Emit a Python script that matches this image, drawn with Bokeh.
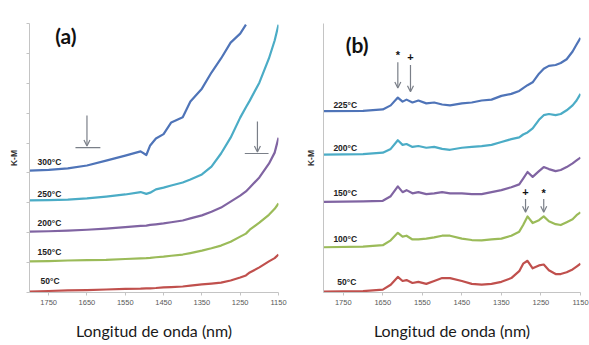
from bokeh.plotting import figure
from bokeh.layouts import row
from bokeh.models import Range1d, FixedTicker, Arrow, OpenHead, Label, ColumnDataSource
from bokeh.embed import file_html
from bokeh.resources import INLINE

# ---- panel (a): K-M spectra after heating (wavelength in nm) ----
wl_a = [1800, 1750, 1700, 1650, 1600, 1550, 1510, 1495, 1485, 1470, 1450, 1430, 1400,
        1380, 1350, 1325, 1300, 1275, 1250, 1235, 1225, 1200, 1175, 1160, 1150]
a_50 = [0.03, 0.05, 0.07, 0.08, 0.10, 0.12, 0.13, 0.14, 0.14, 0.15, 0.17, 0.18, 0.20,
        0.23, 0.27, 0.30, 0.33, 0.40, 0.50, 0.57, 0.67, 0.84, 1.04, 1.15, 1.27]
a_150 = [1.04, 1.05, 1.07, 1.08, 1.09, 1.12, 1.14, 1.15, 1.16, 1.18, 1.20, 1.23, 1.27,
         1.32, 1.40, 1.48, 1.57, 1.70, 1.87, 1.97, 2.10, 2.34, 2.60, 2.80, 2.98]
a_200 = [2.04, 2.05, 2.07, 2.10, 2.14, 2.19, 2.23, 2.24, 2.26, 2.28, 2.31, 2.35, 2.41,
         2.48, 2.58, 2.70, 2.84, 3.04, 3.24, 3.38, 3.51, 3.85, 4.31, 4.68, 5.18]
a_250 = [3.08, 3.09, 3.11, 3.15, 3.21, 3.28, 3.36, 3.30, 3.34, 3.45, 3.51, 3.58, 3.68,
         3.78, 3.95, 4.21, 4.65, 5.18, 5.85, 6.20, 6.42, 7.02, 7.83, 8.43, 8.96]
wl_a_300 = [1800, 1750, 1700, 1650, 1600, 1550, 1510, 1495, 1485, 1470, 1450, 1430, 1400,
            1380, 1350, 1325, 1300, 1275, 1250, 1235]
a_300 = [4.08, 4.10, 4.15, 4.25, 4.41, 4.58, 4.72, 4.60, 4.92, 5.15, 5.30, 5.69, 5.86,
         6.39, 6.82, 7.36, 7.83, 8.36, 8.66, 8.96]

# ---- panel (b) ----
wl_b = [1800, 1700, 1650, 1630, 1612, 1600, 1590, 1575, 1560, 1540, 1520, 1500, 1480,
        1450, 1425, 1400, 1375, 1350, 1325, 1305, 1295, 1284, 1271, 1255, 1243, 1230,
        1213, 1200, 1185, 1170, 1160, 1150]
b_50 = [0.03, 0.05, 0.10, 0.27, 0.54, 0.40, 0.43, 0.33, 0.37, 0.30, 0.40, 0.50, 0.50,
        0.40, 0.30, 0.27, 0.30, 0.37, 0.50, 0.74, 1.00, 1.10, 0.84, 0.94, 0.97, 0.77,
        0.64, 0.64, 0.70, 0.80, 0.90, 1.00]
b_100 = [1.57, 1.59, 1.64, 1.81, 2.07, 1.94, 1.97, 1.84, 1.84, 1.87, 1.91, 1.97, 1.97,
         1.87, 1.82, 1.81, 1.84, 1.87, 1.97, 2.11, 2.34, 2.64, 2.41, 2.51, 2.64, 2.47,
         2.37, 2.34, 2.44, 2.54, 2.68, 2.78]
b_150 = [3.14, 3.16, 3.18, 3.34, 3.68, 3.48, 3.55, 3.44, 3.48, 3.41, 3.44, 3.48, 3.44,
         3.44, 3.41, 3.41, 3.48, 3.55, 3.65, 3.75, 3.95, 4.18, 4.01, 4.21, 4.35, 4.28,
         4.21, 4.25, 4.35, 4.48, 4.58, 4.68]
b_200 = [4.78, 4.80, 4.85, 4.98, 5.28, 5.12, 5.15, 5.05, 5.08, 5.02, 5.05, 4.98, 4.95,
         5.02, 5.05, 5.08, 5.12, 5.22, 5.32, 5.38, 5.48, 5.55, 5.69, 5.99, 6.15, 6.19,
         6.15, 6.19, 6.32, 6.49, 6.66, 6.89]
b_225 = [6.29, 6.30, 6.35, 6.49, 6.76, 6.62, 6.69, 6.59, 6.66, 6.56, 6.59, 6.52, 6.49,
         6.56, 6.59, 6.66, 6.69, 6.82, 6.89, 6.99, 7.09, 7.19, 7.29, 7.59, 7.76, 7.86,
         7.89, 7.96, 8.09, 8.36, 8.60, 8.83]

x_ticks = [1750, 1650, 1550, 1450, 1350, 1250, 1150]
y_marks = [0, 1, 2, 3, 4, 5, 6, 7, 8, 9]

BLUE, CYAN, PURPLE, GREEN, RED = "#4F74B8", "#4BACC6", "#8064A2", "#9BBB59", "#C0504D"
AXIS = "#c4c4c4"
SANS = "Liberation Sans"


def panel(width, left, right, top, y_max, with_y_marks):
    p = figure(width=width, height=345, output_backend="svg", toolbar_location=None,
               x_range=Range1d(1800, 1150), y_range=Range1d(0, y_max),
               min_border_left=left, min_border_right=right,
               min_border_top=top, min_border_bottom=53)
    p.outline_line_color = None
    p.grid.visible = False
    p.background_fill_color = "white"
    p.border_fill_color = "white"

    xa = p.xaxis[0]
    xa.ticker = FixedTicker(ticks=x_ticks)
    xa.axis_line_color = AXIS
    xa.major_tick_line_color = AXIS
    xa.major_tick_out = 3
    xa.major_tick_in = 0
    xa.minor_tick_line_color = None
    xa.major_label_standoff = 4
    xa.major_label_text_font = SANS
    xa.major_label_text_font_size = "7.5px"
    xa.major_label_text_color = "#595959"
    xa.axis_label = "Longitud de onda (nm)"
    xa.axis_label_text_font = "Lato"
    xa.axis_label_text_font_style = "normal"
    xa.axis_label_text_font_size = "16px"
    xa.axis_label_text_color = "#1a1a1a"
    xa.axis_label_standoff = 13

    # unlabelled K-M axis: only small marks, no numbers
    ya = p.yaxis[0]
    ya.ticker = FixedTicker(ticks=[], minor_ticks=y_marks if with_y_marks else [])
    ya.axis_line_color = AXIS
    ya.minor_tick_line_color = AXIS
    ya.minor_tick_out = 3
    ya.minor_tick_in = 0
    ya.major_tick_out = 0
    ya.major_label_standoff = 0
    ya.axis_label = "K-M"
    ya.axis_label_text_font = SANS
    ya.axis_label_text_font_style = "bold"
    ya.axis_label_text_font_size = "8.5px"
    ya.axis_label_text_color = "#333333"
    ya.axis_label_standoff = 8
    return p


def curve_label(p, x, y, text):
    p.add_layout(Label(x=x, y=y, text=text, text_font=SANS, text_font_style="bold",
                       text_font_size="8.5px", text_color="#222222",
                       text_baseline="middle", text_align="left"))


def down_arrow(p, x, y_top, y_tip):
    p.add_layout(Arrow(x_start=x, y_start=y_top, x_end=x, y_end=y_tip,
                       line_color="#7a7f88", line_width=1.2,
                       end=OpenHead(size=6, line_color="#7a7f88", line_width=1.2)))


def mark(p, x, y, text):
    p.add_layout(Label(x=x, y=y, text=text, text_font=SANS,
                       text_font_style="bold", text_font_size="11px",
                       text_color="#111111", text_align="center", text_baseline="middle"))


def panel_tag(p, x, y, text):
    p.add_layout(Label(x=x, y=y, text=text, text_font="Lato", text_font_style="bold",
                       text_font_size="21px", text_color="#111111",
                       text_baseline="middle", text_align="left"))


# ---------------- (a) ----------------
pa = panel(295, 29, 17, 23, 9.0, True)
src_a = ColumnDataSource(dict(wl=wl_a, t50=a_50, t150=a_150, t200=a_200, t250=a_250))
for col, color in [("t50", RED), ("t150", GREEN), ("t200", PURPLE), ("t250", CYAN)]:
    pa.line("wl", col, source=src_a, line_color=color, line_width=2.2, line_join="round")
pa.line(wl_a_300, a_300, line_color=BLUE, line_width=2.2, line_join="round")

curve_label(pa, 1779, 4.35, "300°C")
curve_label(pa, 1779, 3.31, "250°C")
curve_label(pa, 1779, 2.34, "200°C")
curve_label(pa, 1779, 1.37, "150°C")
curve_label(pa, 1771, 0.37, "50°C")

# bracketed arrows marking the two features
down_arrow(pa, 1650, 5.92, 4.90)
down_arrow(pa, 1205, 5.72, 4.70)
brackets_a = ColumnDataSource(dict(x0=[1680, 1238], x1=[1615, 1176], y=[4.85, 4.65]))
pa.segment(x0="x0", y0="y", x1="x1", y1="y", source=brackets_a,
           line_color="#7a7f88", line_width=1.2)

panel_tag(pa, 1733, 8.6, "(a)")

# ---------------- (b) ----------------
pb = panel(294, 28, 9, 13, 9.33, False)
src_b = ColumnDataSource(dict(wl=wl_b, t50=b_50, t100=b_100, t150=b_150,
                              t200=b_200, t225=b_225))
for col, color in [("t50", RED), ("t100", GREEN), ("t150", PURPLE),
                   ("t200", CYAN), ("t225", BLUE)]:
    pb.line("wl", col, source=src_b, line_color=color, line_width=2.2, line_join="round")

curve_label(pb, 1775, 6.49, "225°C")
curve_label(pb, 1775, 5.02, "200°C")
curve_label(pb, 1775, 3.44, "150°C")
curve_label(pb, 1775, 1.87, "100°C")
curve_label(pb, 1765, 0.37, "50°C")

down_arrow(pb, 1612, 7.99, 7.09)
down_arrow(pb, 1580, 7.89, 6.96)
mark(pb, 1612, 8.25, "*")
mark(pb, 1580, 8.16, "+")
down_arrow(pb, 1289, 3.24, 2.78)
down_arrow(pb, 1243, 3.24, 2.78)
mark(pb, 1289, 3.48, "+")
mark(pb, 1243, 3.45, "*")

panel_tag(pb, 1744, 8.6, "(b)")

layout = row(pa, pb)
open("out.html", "w").write(file_html(layout, INLINE))
